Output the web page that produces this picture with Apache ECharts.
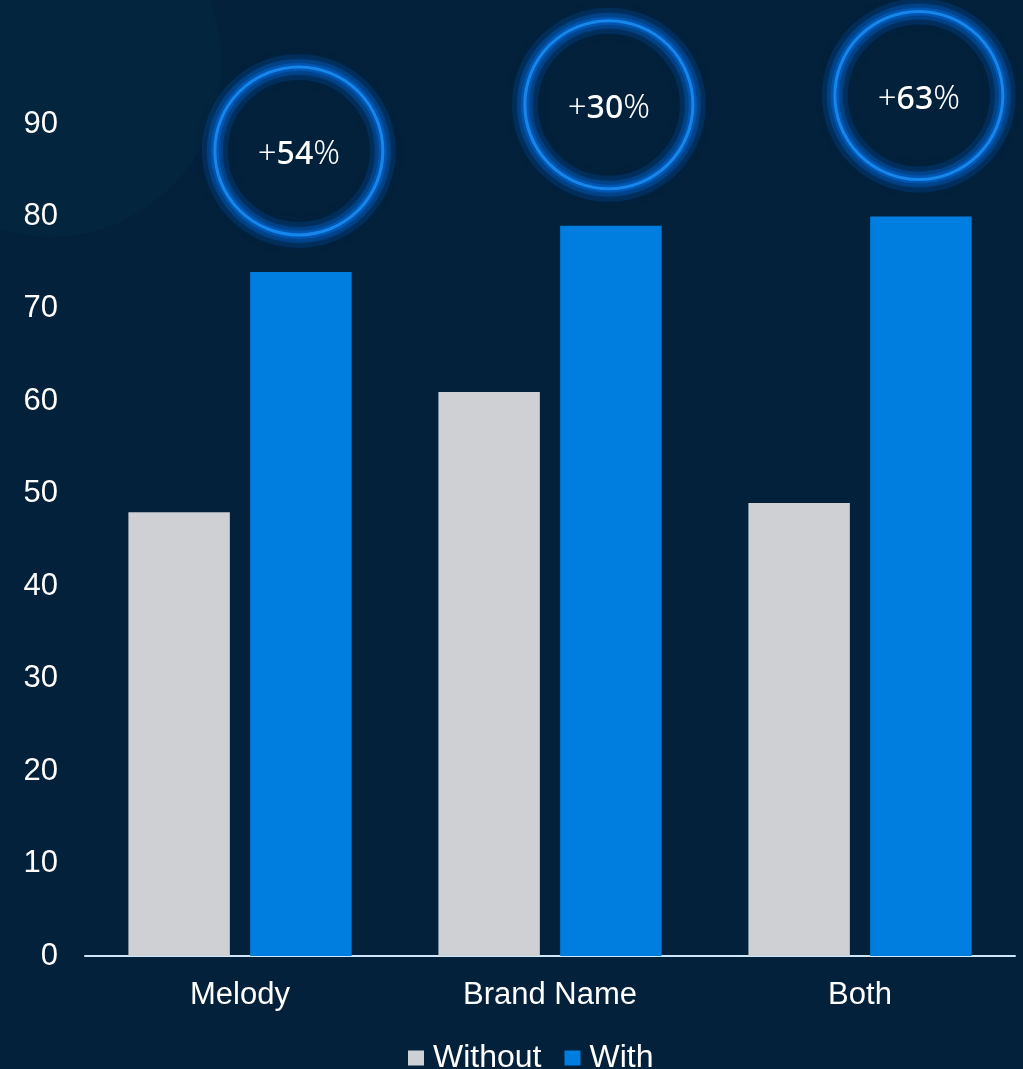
<!DOCTYPE html>
<html>
<head>
<meta charset="utf-8">
<script src="https://cdn.jsdelivr.net/npm/echarts@6/dist/echarts.min.js"></script>
<style>
  html, body { margin: 0; padding: 0; background: #03213a; }
  #chart { width: 1023px; height: 1069px; }
</style>
</head>
<body>
<div id="chart"></div>
<script>
// data
var categories = ['Melody', 'Brand Name', 'Both'];
var withoutValues = [48, 61, 49];
var withValues = [74, 79, 80];
var liftLabels = ['+54', '+30', '+63'];
var yTicks = [0, 10, 20, 30, 40, 50, 60, 70, 80, 90];

var myChart = echarts.init(document.getElementById('chart'));

var CAT_GAP = 0.28, BAR_GAP = 0.2;

// soft glow ring: a few translucent strokes, blurred
function glowRing(cx, cy, r, width, alpha, blur) {
    return {
        type: 'circle',
        shape: { cx: cx, cy: cy, r: r },
        style: {
            fill: 'none', stroke: 'rgba(0,105,215,' + alpha + ')', lineWidth: width,
            shadowBlur: blur, shadowColor: 'rgba(0,105,220,' + alpha + ')'
        }
    };
}

var option = {
    backgroundColor: '#03213a',
    animation: false,
    textStyle: { fontFamily: 'Liberation Sans, Arial, sans-serif' },
    graphic: [
        { // faint big circle top left
            type: 'circle', z: -10, silent: true,
            shape: { cx: 50, cy: 65, r: 172 },
            style: { fill: '#04253e' }
        }
    ],
    grid: { left: 85, right: 8, top: 124, bottom: 113 },
    legend: {
        data: ['Without', 'With'],
        left: 403, top: 1037,
        icon: 'rect', itemWidth: 16, itemHeight: 15, itemGap: 23,
        textStyle: { color: '#ffffff', fontSize: 32, padding: [0, 0, 0, 4] }
    },
    xAxis: {
        type: 'category',
        data: categories,
        axisLine: { lineStyle: { color: '#cde6f9', width: 2 } },
        axisTick: { show: false },
        axisLabel: { color: '#ffffff', fontSize: 31, margin: 24 }
    },
    yAxis: {
        type: 'value',
        min: yTicks[0], max: yTicks[yTicks.length - 1], interval: 10,
        splitLine: { show: false },
        axisLine: { show: false },
        axisTick: { show: false },
        axisLabel: { color: '#ffffff', fontSize: 31, margin: 27 }
    },
    series: [
        {
            name: 'Without', type: 'bar', data: withoutValues,
            barCategoryGap: (CAT_GAP * 100) + '%', barGap: (BAR_GAP * 100) + '%',
            itemStyle: { color: '#cfd0d4' }
        },
        {
            name: 'With', type: 'bar', data: withValues,
            barCategoryGap: (CAT_GAP * 100) + '%', barGap: (BAR_GAP * 100) + '%',
            itemStyle: { color: '#007ee0' }
        },
        {
            // glowing rings above the "With" bars
            type: 'custom', name: 'lift', silent: true, z: 5,
            data: withValues.map(function (v, i) { return [i, v]; }),
            renderItem: function (params, api) {
                var top = api.coord([api.value(0), api.value(1)]);
                var band = api.size([1, 0])[0];
                var barW = band * (1 - CAT_GAP) / (2 + BAR_GAP);
                var cx = top[0] + (barW + barW * BAR_GAP) / 2 - 2;
                var cy = top[1] - 121;
                return {
                    type: 'group',
                    children: [
                        glowRing(cx, cy, 84, 26, 0.18, 14),
                        glowRing(cx, cy, 84, 16, 0.3, 10),
                        glowRing(cx, cy, 84, 8, 0.45, 6),
                        {
                            type: 'circle',
                            shape: { cx: cx, cy: cy, r: 84 },
                            style: { fill: 'none', stroke: '#1686ea', lineWidth: 3 }
                        },
                        {
                            type: 'text',
                            x: cx, y: cy + 4,
                            style: {
                                text: '{p|+}{d|' + liftLabels[params.dataIndex].slice(1) + '}{p|%}',
                                align: 'center', verticalAlign: 'middle',
                                rich: {
                                    p: { fill: '#ffffff', fontSize: 33, fontFamily: 'Noto Sans', fontWeight: 300 },
                                    d: { fill: '#ffffff', fontSize: 32, fontFamily: 'Noto Sans', fontWeight: 500 }
                                }
                            }
                        }
                    ]
                };
            }
        }
    ]
};

myChart.setOption(option);
</script>
</body>
</html>
